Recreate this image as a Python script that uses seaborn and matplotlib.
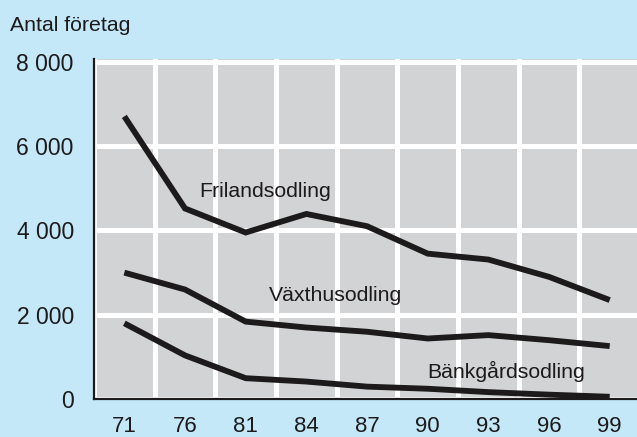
import numpy as np
import pandas as pd
import matplotlib
matplotlib.use("Agg")
import matplotlib.pyplot as plt
import seaborn as sns

# =========================
# DATA
# =========================
years = ["71", "76", "81", "84", "87", "90", "93", "96", "99"]
frilandsodling = [6700, 4520, 3950, 4390, 4100, 3450, 3310, 2900, 2350]
vaxthusodling = [3000, 2600, 1840, 1700, 1600, 1440, 1520, 1400, 1260]
bankgardsodling = [1800, 1040, 500, 420, 300, 250, 170, 110, 60]
series_names = ["Frilandsodling", "Växthusodling", "Bänkgårdsodling"]
y_ticks = [0, 2000, 4000, 6000, 8000]
y_tick_labels = ["0", "2 000", "4 000", "6 000", "8 000"]

df = pd.DataFrame({
    "pos": np.arange(len(years)),
    series_names[0]: frilandsodling,
    series_names[1]: vaxthusodling,
    series_names[2]: bankgardsodling,
})
long = df.melt(id_vars="pos", var_name="serie", value_name="antal")

# =========================
# STYLE
# =========================
bg = "#c5e8f8"
panel = "#d2d3d5"
ink = "#1c1a1b"

sns.set_style("white", rc={"axes.facecolor": panel, "figure.facecolor": bg})
plt.rcParams["font.family"] = ["Liberation Sans", "DejaVu Sans"]

fig = plt.figure(figsize=(6.37, 4.37), dpi=100)
ax = fig.add_axes([94 / 637, 1 - 399.3 / 437, 1 - 94 / 637, (399.3 - 59) / 437])

sns.lineplot(data=long, x="pos", y="antal", hue="serie",
             palette={n: ink for n in series_names}, linewidth=4.2,
             legend=False, sort=False, ax=ax, solid_capstyle="butt",
             solid_joinstyle="miter")

ax.set_xlim(-0.5, 8.45)
ax.set_ylim(0, 8060)

# category labels at centres, ticks + white grid at the boundaries
ax.set_xticks(np.arange(len(years)))
ax.set_xticklabels(years)
ax.set_xticks(np.arange(len(years)) - 0.5, minor=True)
ax.set_yticks(y_ticks)
ax.set_yticklabels(y_tick_labels)

ax.set_axisbelow(True)
ax.grid(False)
ax.grid(which="minor", axis="x", color="white", linewidth=3.6)
ax.grid(which="major", axis="y", color="white", linewidth=3.6)

ax.tick_params(axis="x", which="major", length=0, pad=12, labelsize=16, labelcolor=ink)
ax.tick_params(axis="x", which="minor", length=6.5, width=1.2, color=ink, direction="out")
ax.tick_params(axis="y", which="major", length=6.5, width=1.2, color=ink, pad=8,
               labelsize=16.5, labelcolor=ink, direction="out")

for s in ["top", "right"]:
    ax.spines[s].set_visible(False)
for s in ["left", "bottom"]:
    ax.spines[s].set_color(ink)
    ax.spines[s].set_linewidth(1.6)

ax.set_xlabel("")
ax.set_ylabel("")

# series labels
ax.text(1.235, 4910, series_names[0], fontsize=15.3, color=ink, ha="left", va="center")
ax.text(2.39, 2470, series_names[1], fontsize=15.3, color=ink, ha="left", va="center")
ax.text(5.0, 650, series_names[2], fontsize=15.3, color=ink, ha="left", va="center")

fig.text(10 / 637, 1 - 31 / 437, "Antal företag", fontsize=15.3, color=ink,
         ha="left", va="baseline")

fig.savefig("out.png", dpi=100, facecolor=bg)
